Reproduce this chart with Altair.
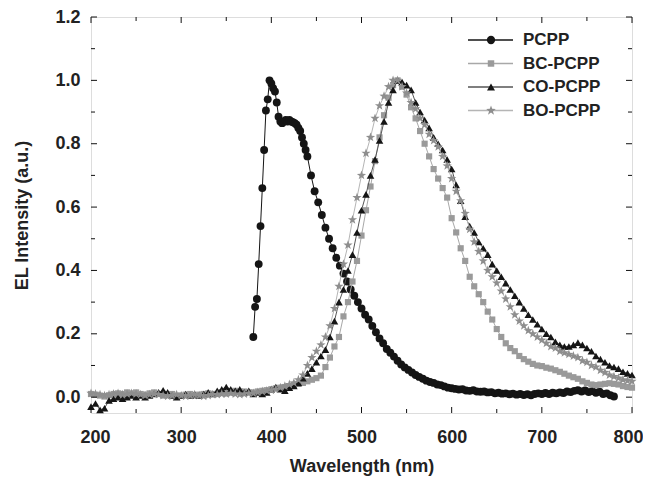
import altair as alt
import pandas as pd

# ---------------- data ----------------
STEP5_X = list(range(200, 801, 5))

BC_Y = [
    0.010, 0.008, 0.005, 0.002, 0.006, 0.010, 0.012, 0.010, 0.015, 0.012,
    0.015, 0.010, 0.008, 0.012, 0.015, 0.010, 0.005, 0.008, 0.010, 0.005,
    0.005, 0.008, 0.010, 0.005, 0.008, 0.010, 0.012, 0.010, 0.010, 0.015,
    0.012, 0.015, 0.020, 0.018, 0.018, 0.015, 0.015, 0.018, 0.020, 0.022,
    0.025, 0.028, 0.030, 0.032, 0.035, 0.038, 0.042, 0.045, 0.050, 0.055,
    0.060, 0.068, 0.095, 0.125, 0.160, 0.190, 0.255, 0.300, 0.365, 0.430,
    0.510, 0.590, 0.665, 0.745, 0.820, 0.890, 0.945, 0.985, 1.000, 0.980,
    0.955, 0.915, 0.880, 0.840, 0.800, 0.760, 0.720, 0.690, 0.660, 0.630,
    0.565, 0.520, 0.470, 0.430, 0.380, 0.350, 0.325, 0.300, 0.270, 0.245,
    0.215, 0.190, 0.170, 0.155, 0.145, 0.130, 0.120, 0.112, 0.105, 0.100,
    0.098, 0.093, 0.090, 0.085, 0.080, 0.074, 0.068, 0.063, 0.058, 0.050,
    0.045, 0.040, 0.038, 0.040, 0.042, 0.044, 0.042, 0.040, 0.035, 0.032,
    0.030,
]

CO_Y = [
    -0.030, -0.020, -0.040, -0.035, -0.010, -0.005, 0.000, -0.005, 0.000, 0.005,
    0.000, 0.005, 0.000, 0.005, 0.010, 0.015, 0.022, 0.015, 0.005, 0.000,
    0.005, 0.010, 0.005, 0.010, 0.005, 0.010, 0.015, 0.010, 0.020, 0.025,
    0.032, 0.025, 0.020, 0.025, 0.015, 0.020, 0.010, 0.015, 0.010, 0.015,
    0.025, 0.032, 0.025, 0.020, 0.030, 0.035, 0.045, 0.060, 0.075, 0.090,
    0.110, 0.130, 0.150, 0.190, 0.240, 0.300, 0.340, 0.400, 0.450, 0.520,
    0.590, 0.640, 0.700, 0.750, 0.810, 0.870, 0.930, 0.970, 1.000, 0.995,
    0.985, 0.970, 0.930, 0.900, 0.875, 0.850, 0.820, 0.800, 0.780, 0.750,
    0.720, 0.670, 0.620, 0.570, 0.540, 0.520, 0.490, 0.470, 0.450, 0.420,
    0.400, 0.380, 0.360, 0.340, 0.320, 0.300, 0.280, 0.260, 0.245, 0.230,
    0.215, 0.200, 0.190, 0.175, 0.165, 0.160, 0.160, 0.165, 0.172, 0.165,
    0.155, 0.145, 0.130, 0.120, 0.110, 0.100, 0.095, 0.090, 0.080, 0.075,
    0.070,
]

BO_Y = [
    0.012, 0.010, 0.008, 0.005, 0.008, 0.010, 0.012, 0.008, 0.010, 0.012,
    0.010, 0.008, 0.005, 0.008, 0.010, 0.008, 0.005, 0.003, 0.005, 0.008,
    0.005, 0.003, 0.005, 0.008, 0.005, 0.003, 0.005, 0.008, 0.008, 0.010,
    0.010, 0.012, 0.010, 0.008, 0.010, 0.012, 0.012, 0.015, 0.018, 0.020,
    0.022, 0.025, 0.030, 0.035, 0.040, 0.045, 0.055, 0.070, 0.100, 0.125,
    0.145, 0.165, 0.190, 0.225, 0.280, 0.350, 0.420, 0.480, 0.560, 0.630,
    0.700, 0.770, 0.820, 0.880, 0.920, 0.950, 0.980, 1.000, 1.000, 0.980,
    0.960, 0.930, 0.910, 0.880, 0.860, 0.830, 0.810, 0.790, 0.760, 0.730,
    0.690, 0.650, 0.620, 0.580, 0.530, 0.490, 0.460, 0.430, 0.400, 0.380,
    0.360, 0.335, 0.310, 0.285, 0.260, 0.240, 0.225, 0.210, 0.200, 0.190,
    0.180, 0.170, 0.160, 0.155, 0.145, 0.140, 0.135, 0.130, 0.125, 0.115,
    0.110, 0.100, 0.095, 0.085, 0.078, 0.070, 0.065, 0.060, 0.055, 0.052,
    0.050,
]

PCPP_X = list(range(380, 441, 2)) + list(range(444, 781, 4))
PCPP_Y = [
    0.19, 0.285, 0.31, 0.42, 0.54, 0.66, 0.78, 0.905, 0.94, 1.0,
    0.99, 0.975, 0.965, 0.93, 0.885, 0.87, 0.865, 0.87, 0.875, 0.87,
    0.875, 0.87, 0.868, 0.865, 0.86, 0.85, 0.84, 0.82, 0.80, 0.78,
    0.76,
    0.70, 0.65, 0.615, 0.575, 0.535, 0.50, 0.47, 0.44, 0.415, 0.39,
    0.365, 0.34, 0.32, 0.30, 0.28, 0.26, 0.245, 0.225, 0.205, 0.185,
    0.17, 0.152, 0.14, 0.128, 0.115, 0.103, 0.094, 0.086, 0.078, 0.07,
    0.064, 0.058, 0.052, 0.048, 0.045, 0.04, 0.038, 0.034, 0.03, 0.028,
    0.026, 0.024, 0.025, 0.021, 0.02, 0.022, 0.018, 0.017, 0.018, 0.015,
    0.016, 0.012, 0.014, 0.011, 0.012, 0.009, 0.011, 0.008, 0.010, 0.007,
    0.009, 0.006, 0.010, 0.012, 0.010, 0.013, 0.010, 0.014, 0.012, 0.015,
    0.013, 0.018, 0.016, 0.020, 0.022, 0.018, 0.021, 0.016, 0.019, 0.014,
    0.017, 0.010, 0.012, 0.006, 0.002,
]

SERIES = ["PCPP", "BC-PCPP", "CO-PCPP", "BO-PCPP"]
X_TICKS = [200, 300, 400, 500, 600, 700, 800]
X_MINOR = [250, 350, 450, 550, 650, 750]
Y_TICKS = [0.0, 0.2, 0.4, 0.6, 0.8, 1.0, 1.2]
Y_MINOR = [0.1, 0.3, 0.5, 0.7, 0.9, 1.1]

# ---------------- styling ----------------
W, H = 541, 396
FONT = "Liberation Sans"
STAR = ("M0,-1L0.235,-0.324L0.951,-0.309L0.380,0.124L0.588,0.809L0,0.4"
        "L-0.588,0.809L-0.380,0.124L-0.951,-0.309L-0.235,-0.324Z")
STYLE = {
    "PCPP":    dict(shape="circle",      fill="#151515", line="#151515", size=62),
    "BC-PCPP": dict(shape="square",      fill="#9a9a9a", line="#a8a8a8", size=38),
    "CO-PCPP": dict(shape="triangle-up", fill="#151515", line="#555555", size=58),
    "BO-PCPP": dict(shape=STAR,          fill="#8e8e8e", line="#b5b5b5", size=95),
}
DATA = {
    "PCPP": (PCPP_X, PCPP_Y),
    "BC-PCPP": (STEP5_X, BC_Y),
    "CO-PCPP": (STEP5_X, CO_Y),
    "BO-PCPP": (STEP5_X, BO_Y),
}

xscale = alt.Scale(domain=[200, 800], nice=False, zero=False)
yscale = alt.Scale(domain=[-0.05, 1.2], nice=False, zero=False)

xaxis = alt.Axis(orient="bottom", values=X_TICKS, format="d", title="Wavelength (nm)",
                 grid=False, ticks=False, domain=False, labelPadding=15, titlePadding=11,
                 labelFont=FONT, labelFontSize=18, labelFontWeight="bold",
                 labelColor="#222", titleFont=FONT, titleFontSize=18,
                 titleFontWeight="bold", titleColor="#222",
                 labelFlush=True, labelFlushOffset=11)
yaxis = alt.Axis(orient="left", values=Y_TICKS, format=".1f", title="EL Intensity (a.u.)",
                 grid=False, ticks=False, domain=False, labelPadding=11, titlePadding=23,
                 labelFont=FONT, labelFontSize=18, labelFontWeight="bold",
                 labelColor="#222", titleFont=FONT, titleFontSize=18,
                 titleFontWeight="bold", titleColor="#222", labelFlush=False)


def X(field):
    return alt.X(field, type="quantitative", scale=xscale, axis=xaxis)


def Y(field):
    return alt.Y(field, type="quantitative", scale=yscale, axis=yaxis)


layers = []
for name in SERIES:
    xs, ys = DATA[name]
    df = pd.DataFrame({"wl": xs, "val": ys})
    st = STYLE[name]
    base = alt.Chart(df)
    layers.append(base.mark_line(color=st["line"], strokeWidth=1).encode(x=X("wl"), y=Y("val")))
    layers.append(base.mark_point(shape=st["shape"], filled=True, fill=st["fill"],
                                  color=st["fill"], opacity=1, size=st["size"],
                                  strokeWidth=0).encode(x=X("wl"), y=Y("val")))

# inward ticks on all four sides
xt = pd.DataFrame({"t": X_TICKS})
xm = pd.DataFrame({"t": X_MINOR})
yt = pd.DataFrame({"t": Y_TICKS})
ym = pd.DataFrame({"t": Y_MINOR})
tick_style = dict(color="#111", strokeWidth=1)
for df, ln in ((xt, 6), (xm, 4)):
    layers.append(alt.Chart(df).mark_rule(**tick_style).encode(
        x=X("t"), y=alt.value(H), y2=alt.value(H - ln)))
    layers.append(alt.Chart(df).mark_rule(**tick_style).encode(
        x=X("t"), y=alt.value(0), y2=alt.value(ln)))
for df, ln in ((yt, 6), (ym, 4)):
    layers.append(alt.Chart(df).mark_rule(**tick_style).encode(
        y=Y("t"), x=alt.value(0), x2=alt.value(ln)))
    layers.append(alt.Chart(df).mark_rule(**tick_style).encode(
        y=Y("t"), x=alt.value(W), x2=alt.value(W - ln)))

# manual legend (line + marker + label), top right inside the plot
LEG_X0, LEG_X1, LEG_MX, LEG_TX = 377, 422, 400, 432
LEG_Y0, LEG_DY = 23, 23.5
one = pd.DataFrame({"a": [0]})
for i, name in enumerate(SERIES):
    st = STYLE[name]
    yy = LEG_Y0 + i * LEG_DY
    layers.append(alt.Chart(one).mark_rule(color=st["line"], strokeWidth=1.5).encode(
        x=alt.value(LEG_X0), x2=alt.value(LEG_X1), y=alt.value(yy)))
    layers.append(alt.Chart(one).mark_point(shape=st["shape"], filled=True, fill=st["fill"],
                                            color=st["fill"], opacity=1, size=st["size"] * 1.1,
                                            strokeWidth=0).encode(
        x=alt.value(LEG_MX), y=alt.value(yy)))
    layers.append(alt.Chart(one).mark_text(text=name, align="left", baseline="middle",
                                           font=FONT, fontSize=17, fontWeight="bold",
                                           color="#222").encode(
        x=alt.value(LEG_TX), y=alt.value(yy)))

chart = alt.layer(*layers).properties(
    width=W, height=H,
    padding={"left": 83, "top": 9, "right": 11, "bottom": 66},
    autosize="none",
).configure_view(stroke="#111", strokeWidth=1.2).configure(background="white")

chart.save("out.html", embed_options={"renderer": "svg", "actions": False})
